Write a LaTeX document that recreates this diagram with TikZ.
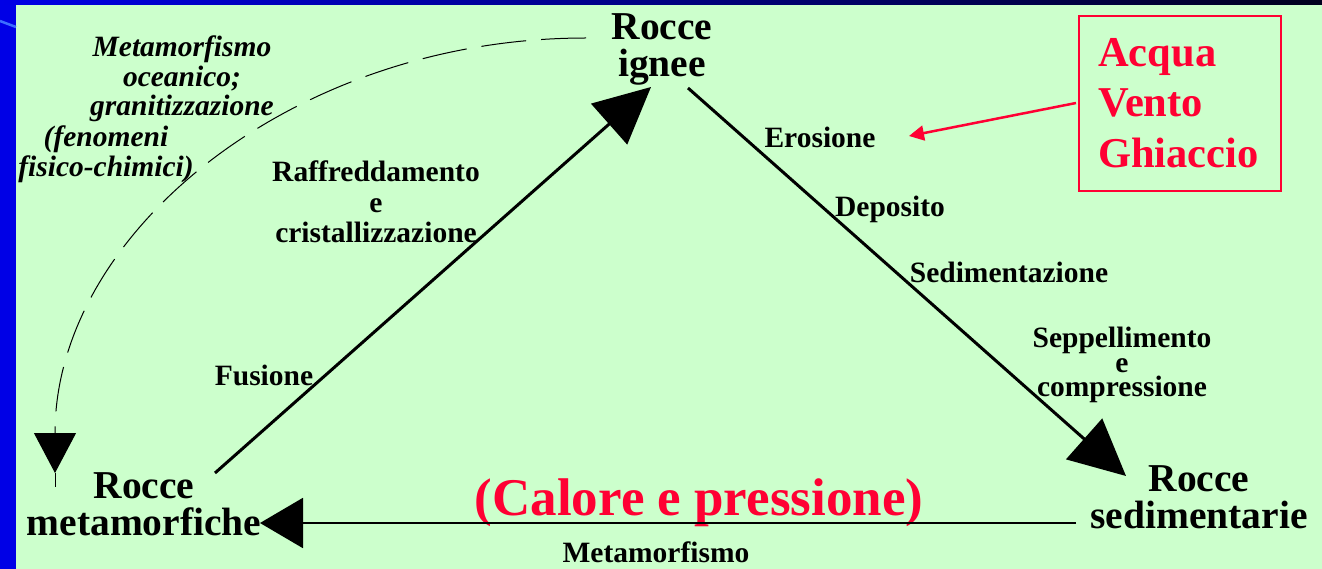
\documentclass[tikz,border=0pt]{standalone}
\usepackage{fontspec}
\setmainfont{Liberation Serif}
\usetikzlibrary{arrows.meta}
\definecolor{bggreen}{RGB}{204,255,204}
\definecolor{slideblue}{RGB}{0,0,230}
\definecolor{darknavy}{RGB}{0,0,30}
\definecolor{lightblue}{RGB}{60,110,255}
\definecolor{redtxt}{RGB}{255,0,51}
\begin{document}
\begin{tikzpicture}[x=1pt,y=-1pt,
  rocks/.style={font=\fontsize{39.5}{37}\selectfont\bfseries, align=center, inner sep=0pt},
  lbl/.style={font=\fontsize{29.5}{24.5}\selectfont\bfseries, align=center, inner sep=0pt},
  itlbl/.style={font=\fontsize{29.5}{29.5}\selectfont\bfseries\itshape, align=center, inner sep=0pt},
  bigarrow/.style={line width=3pt, -{Triangle[length=56pt,width=54pt]}},
  botarrow/.style={line width=2pt, -{Triangle[length=43pt,width=50pt]}},
  dasharrow/.style={line width=1pt, dash pattern=on 45pt off 15pt, -{Triangle[length=40pt,width=42pt]}},
  redarrow/.style={draw=redtxt, line width=2.5pt, -{Triangle[length=15pt,width=15pt]}}
]
\useasboundingbox (0,0) rectangle (1322,569);
% background
\fill[bggreen] (0,0) rectangle (1322,569);
\fill[slideblue] (0,0) rectangle (16,569);
\shade[left color=slideblue, right color=darknavy] (0,0) rectangle (1322,5);
\draw[lightblue, line width=2.5pt] (0,21) -- (16,27);

% rock nodes
\node[rocks, anchor=north] (ign) at (662,13) {Rocce\\ignee};
\node[rocks, anchor=north] (sed) at (1199,465) {Rocce\\sedimentarie};
\node[rocks, anchor=north] (met) at (144,472) {Rocce\\metamorfiche};

% red box
\node[font=\fontsize{42.5}{50.5}\selectfont\bfseries, text=redtxt, align=left,
      inner sep=0pt, anchor=north west] (agents) at (1098,38) {Acqua\\Vento\\Ghiaccio};
\node[draw=redtxt, line width=2pt, minimum width=202pt, minimum height=175pt,
      inner sep=0pt] (agentbox) at (1179.5,104) {};

% labels
\node[lbl, anchor=base] (eros) at (820,148) {Erosione};
\node[lbl, anchor=base] (depo) at (890,217) {Deposito};
\node[lbl, anchor=base] (sedim) at (1009,283) {Sedimentazione};
\node[lbl, anchor=north] (sepp) at (1122,327) {Seppellimento\\e\\compressione};
\node[lbl, anchor=base] (fus) at (264,385) {Fusione};
\node[lbl, anchor=north, font=\fontsize{29.5}{30.5}\selectfont\bfseries] (raff) at (376,161) {Raffreddamento\\e\\cristallizzazione};
\node[lbl, anchor=base] (metlbl) at (656,562) {Metamorfismo};
\node[font=\fontsize{53}{53}\selectfont\bfseries, text=redtxt, inner sep=0pt, anchor=base] (calore) at (699,515) {(Calore e pressione)};
\node[itlbl, anchor=north] (oce) at (182,36) {Metamorfismo\\oceanico;\\granitizzazione};
\node[itlbl, anchor=north] (feno) at (106,126) {(fenomeni\\fisico-chimici)};

% connector end points
\coordinate (m1) at (215,473);
\coordinate (i1) at (651,87);
\coordinate (i2) at (688,88);
\coordinate (s1) at (1126,476);
\coordinate (s2) at (1076,523);
\coordinate (m2) at (260,523);
\coordinate (r1) at (1076,103);
\coordinate (r2) at (909,136);
\coordinate (d1) at (586,38);
\coordinate (d2) at (55,473);
\coordinate (d3) at (55,487);

% connectors
\draw[bigarrow] (m1) -- (i1);
\draw[bigarrow] (i2) -- (s1);
\draw[botarrow] (s2) -- (m2);
\draw[redarrow] (r1) -- (r2);
\draw[dasharrow] (d1) .. controls (293,38) and (55,233) .. (d2);
\draw[line width=1pt] (d2) -- (d3);
\end{tikzpicture}
\end{document}
